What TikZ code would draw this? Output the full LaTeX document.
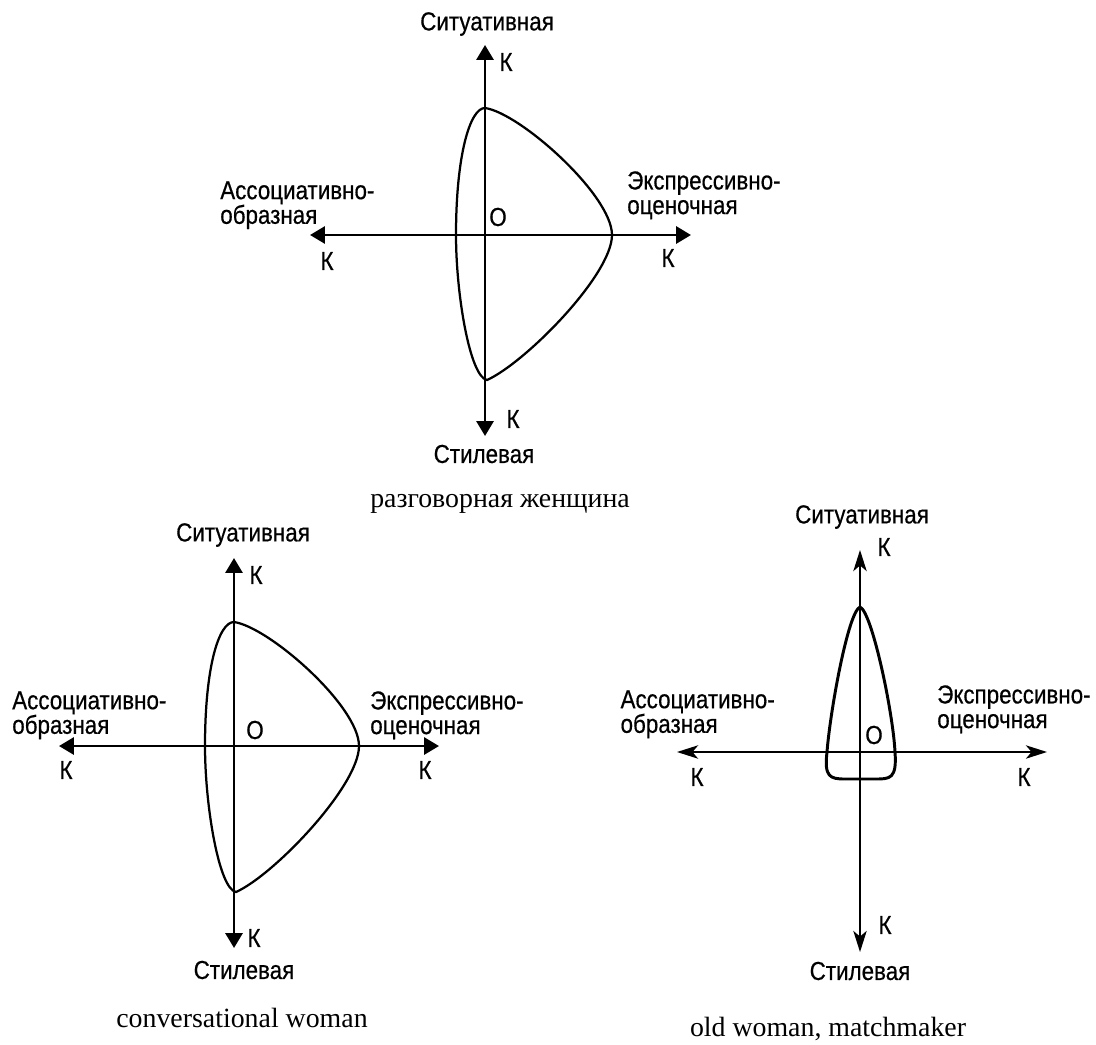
\documentclass[tikz,border=0pt]{standalone}
\usepackage{fontspec}
\newfontfamily\condsans[FakeStretch=0.86,FakeBold=0.5]{Liberation Sans}
\newfontfamily\capserif{Liberation Serif}
\usetikzlibrary{arrows.meta}

\begin{document}
\begin{tikzpicture}[x=0.025cm,y=-0.025cm,
    axisline/.style={line width=1.9pt,{Triangle[length=10.5pt,width=12pt]}-{Triangle[length=10.5pt,width=12pt]}},
    axislineB/.style={line width=1.4pt,{Stealth[length=15pt,width=9.5pt,inset=4pt]}-{Stealth[length=15pt,width=9.5pt,inset=4pt]}},
    fieldline/.style={line width=1.6pt,line join=round},
    fieldlineB/.style={line width=2.1pt,line join=round},
    lbl/.style={inner sep=0pt,align=left,font=\condsans\fontsize{18.5}{17.5}\selectfont},
    capt/.style={inner sep=0pt,anchor=base,font=\capserif\fontsize{19.8}{22}\selectfont}]
    \useasboundingbox (0,0) rectangle (1096,1044);

    \coordinate (sit1) at (485,45);
    \coordinate (stil1) at (485,436);
    \coordinate (ass1) at (310,235);
    \coordinate (exp1) at (691,235);
    \draw[axisline] (sit1) -- (stil1);
    \draw[axisline] (ass1) -- (exp1);
    \draw[fieldline,shift={(485,235)}] (0,-127) .. controls (35,-122) and (127,-40) .. (127,0)
        .. controls (127,40) and (40,128) .. (2,145) .. controls (-15,142) and (-29,60) .. (-29,0)
        .. controls (-29,-80) and (-15,-127) .. (0,-127) -- cycle;
    \node[lbl] (sitT1) at (487,24) {Ситуативная};
    \node[lbl] (kS1) at (506,62) {К};
    \node[lbl] (o1) at (498,217) {О};
    \node[lbl] (kA1) at (327,261) {К};
    \node[lbl] (kE1) at (668,258) {К};
    \node[lbl] (kT1) at (513,419) {К};
    \node[lbl] (stilT1) at (484,454) {Стилевая};
    \node[lbl,anchor=north west] (assT1) at (220,181) {Ассоциативно-\\образная};
    \node[lbl,anchor=north west] (expT1) at (627,171) {Экспрессивно-\\оценочная};
    \node[capt] (cap1) at (500,507) {разговорная женщина};

    \coordinate (sit2) at (234,558);
    \coordinate (stil2) at (234,948);
    \coordinate (ass2) at (59,746);
    \coordinate (exp2) at (439,746);
    \draw[axisline] (sit2) -- (stil2);
    \draw[axisline] (ass2) -- (exp2);
    \draw[fieldline,shift={(234,746)}] (0,-124) .. controls (35,-119) and (125,-40) .. (125,0)
        .. controls (125,40) and (40,129) .. (2,146) .. controls (-15,143) and (-29,60) .. (-29,0)
        .. controls (-29,-80) and (-15,-124) .. (0,-124) -- cycle;
    \node[lbl] (sitT2) at (243,535) {Ситуативная};
    \node[lbl] (kS2) at (256,575) {К};
    \node[lbl] (o2) at (255,730) {О};
    \node[lbl] (kA2) at (66,770) {К};
    \node[lbl] (kE2) at (425,770) {К};
    \node[lbl] (kT2) at (254,938) {К};
    \node[lbl] (stilT2) at (244,970) {Стилевая};
    \node[lbl,anchor=north west] (assT2) at (12,691) {Ассоциативно-\\образная};
    \node[lbl,anchor=north west] (expT2) at (370,691) {Экспрессивно-\\оценочная};
    \node[capt] (cap2) at (242,1027) {conversational woman};

    \coordinate (sit3) at (860,550);
    \coordinate (stil3) at (860,952);
    \coordinate (ass3) at (677,752);
    \coordinate (exp3) at (1047,752);
    \draw[axislineB] (sit3) -- (stil3);
    \draw[axislineB] (ass3) -- (exp3);
    \draw[fieldlineB,shift={(860,752)}] (0,-145) .. controls (12,-140) and (33,-40) .. (35,0)
        .. controls (37,27) and (30,27) .. (15,27) -- (-15,27) .. controls (-30,27) and (-36,25) .. (-33,0)
        .. controls (-30,-40) and (-12,-140) .. (0,-145) -- cycle;
    \node[lbl] (sitT3) at (862,517) {Ситуативная};
    \node[lbl] (kS3) at (884,547) {К};
    \node[lbl] (o3) at (874,735) {О};
    \node[lbl] (kA3) at (697,777) {К};
    \node[lbl] (kE3) at (1024,777) {К};
    \node[lbl] (kT3) at (885,925) {К};
    \node[lbl] (stilT3) at (860,971) {Стилевая};
    \node[lbl,anchor=north east] (assT3) at (775,690) {Ассоциативно-\\образная};
    \node[lbl,anchor=north west] (expT3) at (937,685) {Экспрессивно-\\оценочная};
    \node[capt] (cap3) at (828,1036) {old woman, matchmaker};
\end{tikzpicture}
\end{document}
